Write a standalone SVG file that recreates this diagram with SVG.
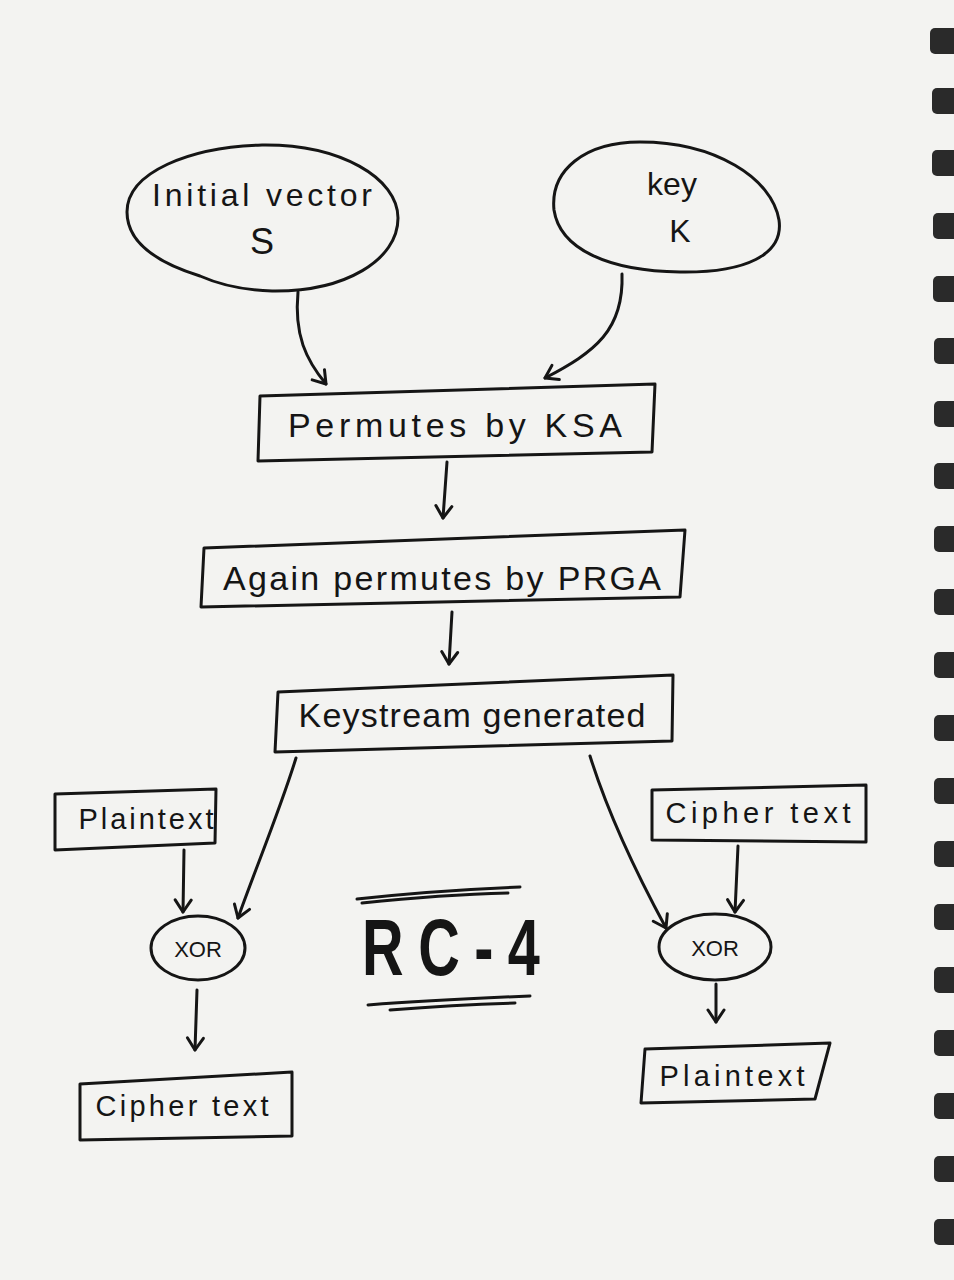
<svg xmlns="http://www.w3.org/2000/svg" width="954" height="1280" viewBox="0 0 954 1280">
<defs>
<style>
.ink{fill:none;stroke:#151515;stroke-width:3;stroke-linecap:round;stroke-linejoin:round}
.t{font-family:"Liberation Sans",Arial,sans-serif;fill:#151515;text-anchor:middle}
.hole{fill:#2a2a2a}
</style>
<marker id="ah" viewBox="0 0 20 20" refX="16" refY="10" markerWidth="20" markerHeight="20" markerUnits="userSpaceOnUse" orient="auto">
<path d="M4,2 L16,10 L4,18" fill="none" stroke="#151515" stroke-width="3" stroke-linecap="round" stroke-linejoin="round"/>
</marker>
</defs>
<rect width="954" height="1280" fill="#f3f3f1"/>
<g id="binding">
<rect class="hole" x="930" y="28" width="30" height="26" rx="5"/>
<rect class="hole" x="932" y="88" width="30" height="26" rx="5"/>
<rect class="hole" x="932" y="150" width="30" height="26" rx="5"/>
<rect class="hole" x="933" y="213" width="30" height="26" rx="5"/>
<rect class="hole" x="933" y="276" width="30" height="26" rx="5"/>
<rect class="hole" x="934" y="338" width="30" height="26" rx="5"/>
<rect class="hole" x="934" y="401" width="30" height="26" rx="5"/>
<rect class="hole" x="934" y="463" width="30" height="26" rx="5"/>
<rect class="hole" x="934" y="526" width="30" height="26" rx="5"/>
<rect class="hole" x="934" y="589" width="30" height="26" rx="5"/>
<rect class="hole" x="934" y="652" width="30" height="26" rx="5"/>
<rect class="hole" x="934" y="715" width="30" height="26" rx="5"/>
<rect class="hole" x="934" y="778" width="30" height="26" rx="5"/>
<rect class="hole" x="934" y="841" width="30" height="26" rx="5"/>
<rect class="hole" x="934" y="904" width="30" height="26" rx="5"/>
<rect class="hole" x="934" y="967" width="30" height="26" rx="5"/>
<rect class="hole" x="934" y="1030" width="30" height="26" rx="5"/>
<rect class="hole" x="934" y="1093" width="30" height="26" rx="5"/>
<rect class="hole" x="934" y="1156" width="30" height="26" rx="5"/>
<rect class="hole" x="934" y="1219" width="30" height="26" rx="5"/>
</g>
<g id="connectors">
<path class="ink" d="M298,292 C294,335 306,360 326,384" marker-end="url(#ah)"/>
<path class="ink" d="M622,274 C624,330 595,352 545,378" marker-end="url(#ah)"/>
<path class="ink" d="M447,462 L443,518" marker-end="url(#ah)"/>
<path class="ink" d="M452,612 L449,664" marker-end="url(#ah)"/>
<path class="ink" d="M296,758 C280,810 255,870 238,918" marker-end="url(#ah)"/>
<path class="ink" d="M590,756 C610,820 640,880 666,928" marker-end="url(#ah)"/>
<path class="ink" d="M184,850 L183,912" marker-end="url(#ah)"/>
<path class="ink" d="M738,846 L735,912" marker-end="url(#ah)"/>
<path class="ink" d="M197,990 L195,1050" marker-end="url(#ah)"/>
<path class="ink" d="M716,984 L716,1022" marker-end="url(#ah)"/>
</g>
<g id="initial-vector">
<path class="ink" d="M262,145 C340,144 398,178 398,218 C398,260 345,292 272,291 C240,290 218,284 200,276 C155,262 127,242 127,212 C127,172 190,147 262,145 Z"/>
<text class="t" x="262" y="206" font-size="32" textLength="220" lengthAdjust="spacing">Initial vector</text>
<text class="t" x="262" y="254" font-size="36">S</text>
</g>
<g id="key">
<path class="ink" d="M640,142 C715,142 772,178 779,220 C784,255 745,273 680,272 C610,271 560,250 554,210 C550,170 585,142 640,142 Z"/>
<text class="t" x="672" y="195" font-size="32">key</text>
<text class="t" x="680" y="242" font-size="32">K</text>
</g>
<g id="ksa">
<path class="ink" d="M260,396 L655,384 L652,452 L258,461 Z"/>
<text class="t" x="455" y="437" font-size="34" textLength="334" lengthAdjust="spacing">Permutes by KSA</text>
</g>
<g id="prga">
<path class="ink" d="M204,548 L685,530 L680,597 L201,607 Z"/>
<text class="t" x="442" y="590" font-size="34" textLength="438" lengthAdjust="spacing">Again permutes by PRGA</text>
</g>
<g id="keystream">
<path class="ink" d="M278,692 L673,675 L672,741 L275,752 Z"/>
<text class="t" x="472" y="727" font-size="34" textLength="347" lengthAdjust="spacing">Keystream generated</text>
</g>
<g id="plaintext-in">
<path class="ink" d="M55,794 L216,789 L215,843 L55,850 Z"/>
<text class="t" x="146" y="829" font-size="29" textLength="135" lengthAdjust="spacing">Plaintext</text>
</g>
<g id="xor-left">
<ellipse class="ink" cx="198" cy="948" rx="47" ry="32"/>
<text class="t" x="198" y="957" font-size="22">XOR</text>
</g>
<g id="cipher-out">
<path class="ink" d="M80,1084 L292,1072 L292,1136 L80,1140 Z"/>
<text class="t" x="182" y="1116" font-size="29" textLength="173" lengthAdjust="spacing">Cipher text</text>
</g>
<g id="cipher-in">
<path class="ink" d="M652,790 L866,785 L866,842 L652,840 Z"/>
<text class="t" x="758" y="823" font-size="29" textLength="185" lengthAdjust="spacing">Cipher text</text>
</g>
<g id="xor-right">
<ellipse class="ink" cx="715" cy="947" rx="56" ry="33"/>
<text class="t" x="715" y="956" font-size="22">XOR</text>
</g>
<g id="plaintext-out">
<path class="ink" d="M645,1049 L830,1043 L815,1099 L641,1103 Z"/>
<text class="t" x="732" y="1086" font-size="29" textLength="145" lengthAdjust="spacing">Plaintext</text>
</g>
<g id="title">
<path class="ink" d="M357,899 C420,892 470,889 520,887" stroke-width="4"/>
<path class="ink" d="M362,903 C420,897 470,894 508,893" stroke-width="2.5"/>
<text class="t" transform="translate(451,975) scale(0.72,1)" x="0" y="0" font-size="80" font-weight="bold" textLength="247" lengthAdjust="spacing">RC-4</text>
<path class="ink" d="M368,1005 C430,1000 480,998 530,996" stroke-width="4"/>
<path class="ink" d="M390,1010 C440,1006 480,1004 515,1003" stroke-width="2.5"/>
</g>
</svg>
